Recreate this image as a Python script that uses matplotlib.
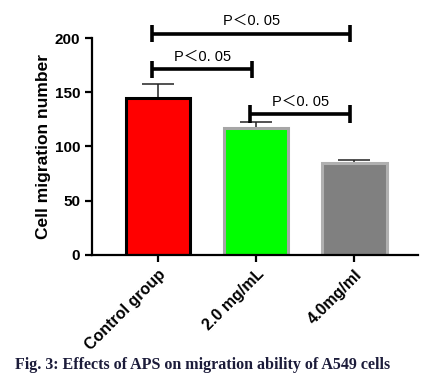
import numpy as np
import matplotlib.pyplot as plt

groups = ["Control group", "2.0 mg/mL", "4.0mg/ml"]
means = [145, 117, 85]
errs = [13, 6, 3]
fills = ["#ff0000", "#00ff00", "#808080"]
edges = ["#000000", "#a6a6a6", "#b0b0b0"]

# significance brackets: (left group, right group, height)
sig = [(0, 2, 204), (0, 1, 171), (1, 2, 130)]
sig_text = ["P\uff1c0. 05", "P\uff1c0. 05", "P\uff1c0. 05"]

plt.rcParams['font.family'] = ['Liberation Sans', 'Noto Sans CJK SC', 'DejaVu Sans']
fig = plt.figure(figsize=(4.32, 3.8), dpi=100)
ax = fig.add_axes([0.213, 0.329, 0.755, 0.571])

x = np.arange(len(groups))
ax.bar(x, means, width=0.66, color=fills, edgecolor=edges, linewidth=2.2, zorder=2)
ax.errorbar(x, means, yerr=[np.zeros(len(errs)), errs], fmt="none", ecolor="#222222",
            elinewidth=1.1, capsize=11.5, capthick=1.1, zorder=1)

for (a, b, h), t in zip(sig, sig_text):
    ax.plot([x[a] - 0.06, x[b] - 0.04], [h, h], color="black", lw=2.6, clip_on=False,
            solid_capstyle="butt")
    for xx in (x[a] - 0.06, x[b] - 0.04):
        ax.plot([xx, xx], [h - 8, h + 8], color="black", lw=2.6, clip_on=False,
                solid_capstyle="butt")
    ax.text((x[a] + x[b]) / 2 - 0.05, h + 5, t, ha="center", va="bottom", fontsize=10.5)

ax.set_xlim(-0.673, 2.653)
ax.set_ylim(0, 200)
ax.set_yticks([0, 50, 100, 150, 200])
ax.set_xticks(x)
ax.set_xticklabels(groups, rotation=45, ha="right", rotation_mode="anchor",
                   fontsize=11.5, fontweight="bold")
for lab in ax.get_yticklabels():
    lab.set_fontweight("bold")
    lab.set_fontsize(11)
ax.set_ylabel("Cell migration number", fontsize=12.5, fontweight="bold", labelpad=3)
ax.spines["top"].set_visible(False)
ax.spines["right"].set_visible(False)
ax.spines["left"].set_linewidth(1.6)
ax.spines["bottom"].set_linewidth(1.6)
ax.tick_params(width=1.6, length=5)

fig.text(0.035, 0.028, "Fig. 3: Effects of APS on migration ability of A549 cells",
         family="Liberation Serif", fontweight="bold", fontsize=11.5, color="#1c1c3a")

plt.savefig("out.png", dpi=100)
